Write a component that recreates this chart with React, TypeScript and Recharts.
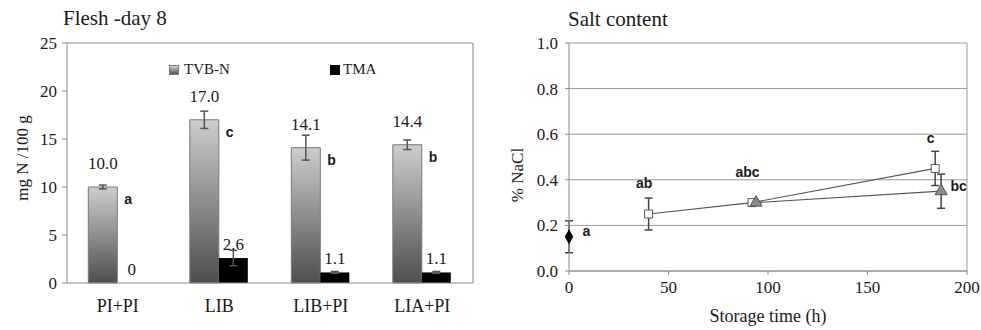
import React from "react";
import {
  BarChart,
  Bar,
  ScatterChart,
  Scatter,
  XAxis,
  YAxis,
  CartesianGrid,
  ErrorBar,
  LabelList,
  Legend,
} from "recharts";

// Flesh - day 8
const groups = ["PI+PI", "LIB", "LIB+PI", "LIA+PI"];
const tvbn = [10.0, 17.0, 14.1, 14.4];
const tvbnErr = [0.2, 0.9, 1.3, 0.5];
const tvbnLetters = ["a", "c", "b", "b"];
const tma = [0, 2.6, 1.1, 1.1];
const tmaErr = [0, 0.8, 0.1, 0.1];
const barTicks = [0, 5, 10, 15, 20, 25];

// Salt content
const ctrlTime = [0];
const ctrlNaCl = [0.15];
const ctrlErr = [0.07];
const ctrlLetters = ["a"];
const sqTime = [40, 92, 184];
const sqNaCl = [0.25, 0.3, 0.45];
const sqErr = [0.07, 0, 0.075];
const sqLetters = ["ab", "abc", "c"];
const triTime = [94, 187];
const triNaCl = [0.3, 0.35];
const triErr = [0, 0.075];
const triLetters = ["", "bc"];
const saltTicks = [0, 0.2, 0.4, 0.6, 0.8, 1.0];
const timeTicks = [0, 50, 100, 150, 200];

const barData = groups.map((g, i) => ({
  group: g,
  tvbn: tvbn[i],
  tvbnErr: tvbnErr[i],
  letter: tvbnLetters[i],
  tma: tma[i],
  tmaErr: tmaErr[i],
}));

const toPoints = (t: number[], v: number[], e: number[], l: string[]) =>
  t.map((x, i) => ({ time: x, nacl: v[i], err: e[i], letter: l[i] }));

const ctrlData = toPoints(ctrlTime, ctrlNaCl, ctrlErr, ctrlLetters);
const sqData = toPoints(sqTime, sqNaCl, sqErr, sqLetters);
const triData = toPoints(triTime, triNaCl, triErr, triLetters);

const serif = "'Liberation Serif', 'Times New Roman', serif";
const sans = "'Liberation Sans', Arial, sans-serif";
const axisGray = "#8a8a8a";
const textCol = "#1a1a1a";

const tickStyle = { fontSize: 17, fill: textCol };

const frame = {
  horizontalCoordinatesGenerator: ({ offset }: any) => [offset.top],
  verticalCoordinatesGenerator: ({ offset }: any) => [offset.left + offset.width],
};

const LetterRight = (props: any) => {
  const { x, y, width, value } = props;
  if (!value) return null;
  return (
    <text x={x + width + 7} y={y + 17} fontSize={14} fontWeight="bold" style={{ fontFamily: sans }} fill={textCol}>
      {value}
    </text>
  );
};

const BarLegend = () => (
  <div style={{ display: "flex", fontFamily: serif, fontSize: 15, color: textCol }}>
    <div style={{ display: "flex", alignItems: "center", width: 161 }}>
      <span
        style={{
          width: 10,
          height: 10,
          marginRight: 5,
          background: "linear-gradient(#cfcfcf, #555)",
          border: "1px solid #777",
          boxSizing: "border-box",
        }}
      />
      TVB-N
    </div>
    <div style={{ display: "flex", alignItems: "center" }}>
      <span style={{ width: 10, height: 10, marginRight: 3, background: "#000" }} />
      TMA
    </div>
  </div>
);

const YTitle = (text: string, cxAbs: number, dy: number) => (props: any) => {
  const { viewBox } = props;
  const cx = viewBox.x + cxAbs;
  const cy = viewBox.y + viewBox.height / 2 + dy;
  return (
    <text
      x={cx}
      y={cy}
      transform={`rotate(-90, ${cx}, ${cy})`}
      textAnchor="middle"
      dominantBaseline="central"
      fontSize={17}
      fill={textCol}
    >
      {text}
    </text>
  );
};

const SaltLetter = (side: "top" | "right") => (props: any) => {
  const { x, y, value } = props;
  if (!value) return null;
  const px = side === "top" ? x : x + 22;
  const py = side === "top" ? y - 26 : y - 1;
  return (
    <text
      x={px}
      y={py}
      textAnchor="middle"
      dominantBaseline="central"
      fontSize={14}
      fontWeight="bold"
      style={{ fontFamily: sans }}
      fill={textCol}
    >
      {value}
    </text>
  );
};

const App: React.FC = () => {
  return (
    <div
      style={{
        position: "absolute",
        left: 0,
        top: 0,
        width: 981,
        height: 330,
        background: "#fff",
        fontFamily: serif,
      }}
    >
      <style>{`.recharts-wrapper text { font-family: 'Liberation Serif', 'Times New Roman', serif; }`}</style>
      <div style={{ position: "absolute", left: 63, top: 6, fontSize: 21, color: textCol }}>Flesh -day 8</div>
      <div style={{ position: "absolute", left: 568, top: 7, fontSize: 21, color: textCol }}>Salt content</div>

      <div style={{ position: "absolute", left: 0, top: 0 }}>
        <BarChart
          width={490}
          height={330}
          data={barData}
          margin={{ top: 43, right: 17, bottom: 17, left: 0 }}
          barCategoryGap="21%"
          barGap={0}
        >
          <defs>
            <linearGradient id="tvbGrad" x1="0" y1="0" x2="0" y2="1">
              <stop offset="0%" stopColor="#cdcdcd" />
              <stop offset="100%" stopColor="#4e4e4e" />
            </linearGradient>
          </defs>
          <CartesianGrid stroke={axisGray} {...frame} />
          <XAxis
            dataKey="group"
            height={30}
            stroke={axisGray}
            tickLine={false}
            tickMargin={10}
            tick={{ ...tickStyle, fontSize: 18 }}
          />
          <YAxis
            width={67}
            domain={[0, 25]}
            ticks={barTicks}
            stroke={axisGray}
            tickSize={5}
            tickMargin={5}
            tick={tickStyle}
            label={{ content: YTitle("mg N /100 g", 22, -5) }}
          />
          <Legend
            layout="horizontal"
            verticalAlign="middle"
            content={BarLegend}
            wrapperStyle={{ left: 169, top: 61, width: 240 }}
          />
          <Bar dataKey="tvbn" fill="url(#tvbGrad)" stroke="#7a7a7a" isAnimationActive={false}>
            <ErrorBar dataKey="tvbnErr" width={4} stroke="#555" />
            <LabelList
              dataKey="tvbn"
              position="top"
              offset={18}
              formatter={(v: any) => Number(v).toFixed(1)}
              style={{ fontSize: 17, fill: textCol }}
            />
            <LabelList dataKey="letter" content={LetterRight} />
          </Bar>
          <Bar
            dataKey="tma"
            fill="#000"
            minPointSize={(v: number) => (v === 0 ? 0.01 : 0)}
            isAnimationActive={false}
          >
            <ErrorBar dataKey="tmaErr" width={4} stroke="#555" />
            <LabelList
              dataKey="tma"
              position="top"
              offset={8}
              formatter={(v: any) => (Number(v) === 0 ? "0" : Number(v).toFixed(1))}
              style={{ fontSize: 17, fill: textCol }}
            />
          </Bar>
        </BarChart>
      </div>

      <div style={{ position: "absolute", left: 490, top: 0 }}>
        <ScatterChart width={491} height={330} margin={{ top: 43, right: 14, bottom: 4, left: 0 }}>
          <CartesianGrid
            stroke="#9a9a9a"
            verticalCoordinatesGenerator={({ offset }: any) => [offset.left + offset.width]}
          />
          <XAxis
            type="number"
            dataKey="time"
            domain={[0, 200]}
            ticks={timeTicks}
            height={55}
            stroke={axisGray}
            tickSize={4}
            tickMargin={6}
            tick={tickStyle}
            label={{
              value: "Storage time (h)",
              position: "insideBottom",
              offset: 4,
              style: { fontSize: 18, fill: textCol },
            }}
          />
          <YAxis
            type="number"
            dataKey="nacl"
            domain={[0, 1]}
            ticks={saltTicks}
            width={79}
            stroke={axisGray}
            tickSize={4}
            tickMargin={7}
            tick={tickStyle}
            tickFormatter={(v: number) => v.toFixed(1)}
            label={{ content: YTitle("% NaCl", 27, 18) }}
          />
          <Scatter data={ctrlData} shape="diamond" size={55} fill="#000" isAnimationActive={false}>
            <ErrorBar dataKey="err" direction="y" width={4} stroke="#444" />
            <LabelList dataKey="letter" content={SaltLetter("right")} />
          </Scatter>
          <Scatter
            data={sqData}
            shape="square"
            size={140}
            fill="#fff"
            stroke="#555"
            line={{ stroke: "#555", strokeWidth: 1.2 }}
            isAnimationActive={false}
          >
            <ErrorBar dataKey="err" direction="y" width={4} stroke="#444" />
            <LabelList dataKey="letter" content={SaltLetter("top")} />
          </Scatter>
          <Scatter
            data={triData}
            shape="triangle"
            size={110}
            fill="#8a8a8a"
            stroke="#555"
            line={{ stroke: "#555", strokeWidth: 1.2 }}
            isAnimationActive={false}
          >
            <ErrorBar dataKey="err" direction="y" width={4} stroke="#444" />
            <LabelList dataKey="letter" content={SaltLetter("right")} />
          </Scatter>
        </ScatterChart>
      </div>
    </div>
  );
};

export default App;
